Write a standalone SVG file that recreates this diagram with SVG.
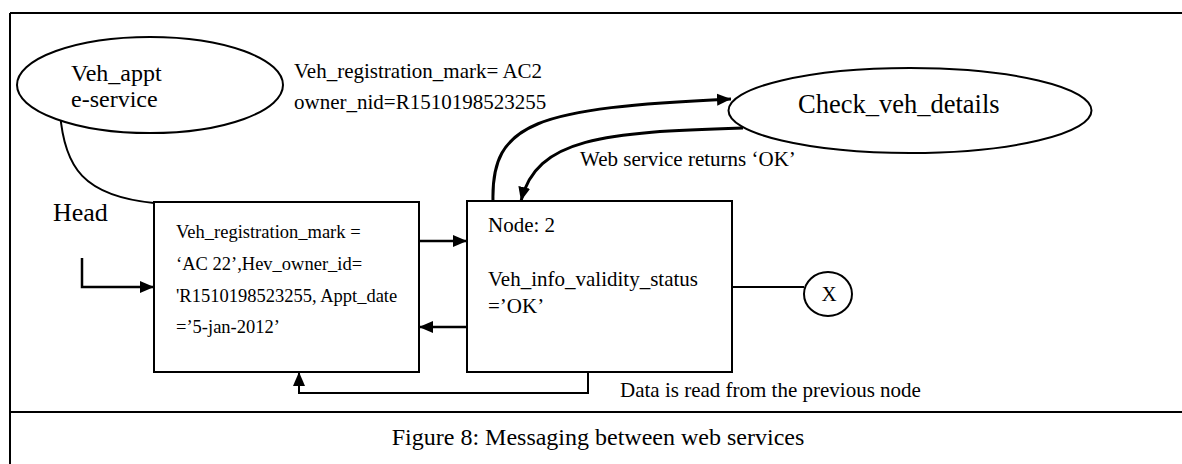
<svg xmlns="http://www.w3.org/2000/svg" width="1182" height="464" viewBox="0 0 1182 464">
<style>
text{font-family:"Liberation Serif","Times New Roman",serif;fill:#000}
.s{stroke:#000;fill:none;stroke-width:2}
.t{stroke:#000;fill:none;stroke-width:2.5}
.c{stroke:#000;fill:none;stroke-width:3}
.b{stroke:#000;fill:#fff;stroke-width:2}
.f21{font-size:21px}
.f18{font-size:18.5px}
</style>
<defs>
<marker id="ah" markerUnits="userSpaceOnUse" markerWidth="14" markerHeight="14" viewBox="0 0 14 14" refX="14" refY="7" orient="auto">
<path d="M0,1 L14,7 L0,13 z" fill="#000"/>
</marker>
</defs>
<rect width="1182" height="464" fill="#fff"/>
<g id="frame">
<path class="s" d="M10,13 H1182 M10,13 V464 M10,412 H1182"/>
</g>
<g id="connectors">
<path class="s" d="M60,112 C64,168 84,196 154,203"/>
<path class="t" d="M82,258 V287 H154" marker-end="url(#ah)"/>
<path class="t" d="M419,241 H467" marker-end="url(#ah)"/>
<path class="t" d="M467,327 H419" marker-end="url(#ah)"/>
<path class="c" d="M493,201 C491,122 536,108 731,99" marker-end="url(#ah)"/>
<path class="c" d="M743,128 C604,132 536,138 521,201" marker-end="url(#ah)"/>
<path class="s" d="M732,287 H804"/>
<path class="s" d="M588,372 V393 H299 V372" marker-end="url(#ah)"/>
</g>
<g id="veh_appt">
<ellipse class="b" cx="150" cy="85" rx="133" ry="48"/>
<text x="71" y="81" font-size="24">Veh_appt</text>
<text x="71" y="107" font-size="24">e-service</text>
</g>
<g id="params">
<text class="f21" x="294" y="78">Veh_registration_mark= AC2</text>
<text class="f21" x="294" y="109">owner_nid=R1510198523255</text>
</g>
<g id="check_veh_details">
<ellipse class="b" cx="910" cy="110.5" rx="181.5" ry="42.5"/>
<text x="798" y="113" font-size="26.5">Check_veh_details</text>
</g>
<g id="ret_label">
<text class="f21" x="580" y="166">Web service returns ‘OK’</text>
</g>
<g id="head_label">
<text x="53" y="221" font-size="26">Head</text>
</g>
<g id="node1">
<rect class="b" x="154" y="202" width="265" height="170"/>
<text class="f18" x="176" y="238">Veh_registration_mark =</text>
<text class="f18" x="176" y="270">‘AC 22’,Hev_owner_id=</text>
<text class="f18" x="176" y="302">'R1510198523255, Appt_date</text>
<text class="f18" x="176" y="333">=’5-jan-2012’</text>
</g>
<g id="node2">
<rect class="b" x="467" y="201" width="265" height="171"/>
<text class="f21" x="488" y="232">Node: 2</text>
<text class="f21" x="488" y="286">Veh_info_validity_status</text>
<text class="f21" x="488" y="313">=’OK’</text>
</g>
<g id="end_x">
<ellipse class="b" cx="828" cy="294" rx="24" ry="22"/>
<text class="f21" x="829" y="301" text-anchor="middle">X</text>
</g>
<g id="read_label">
<text class="f21" x="620" y="397">Data is read from the previous node</text>
</g>
<g id="caption">
<text x="598" y="445" font-size="24" text-anchor="middle">Figure 8: Messaging between web services</text>
</g>
</svg>
